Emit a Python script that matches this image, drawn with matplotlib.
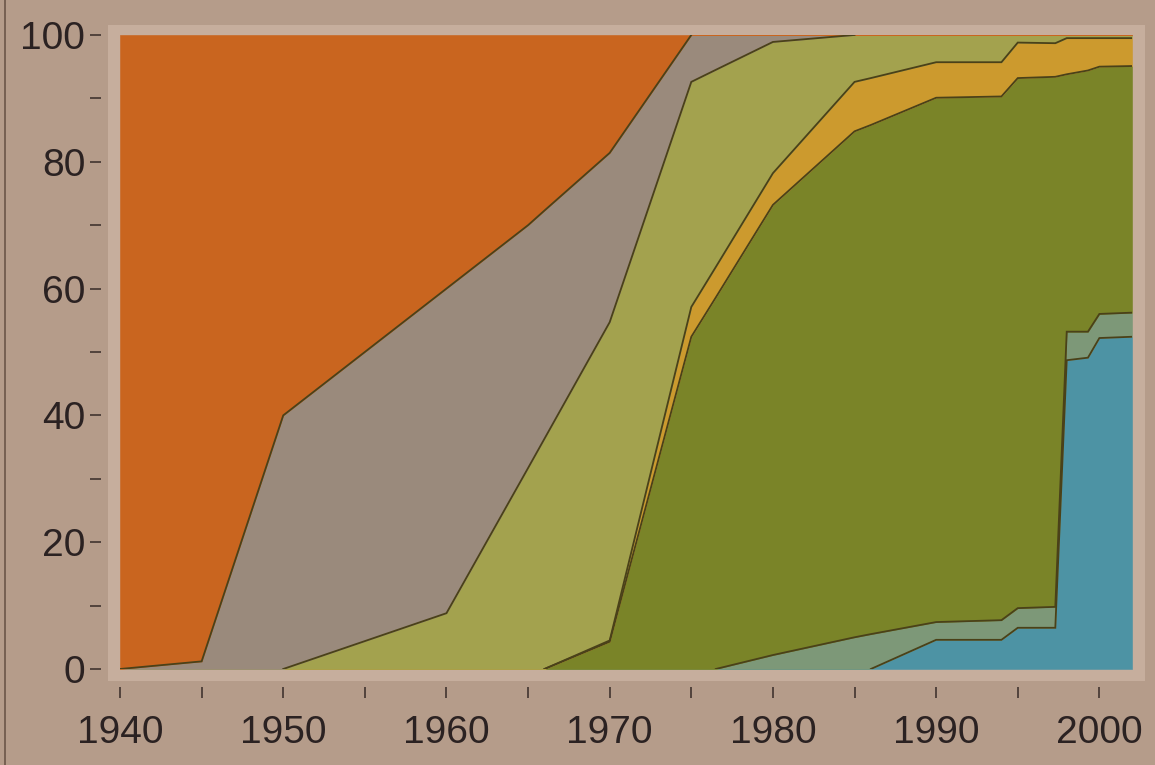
import numpy as np
import matplotlib
matplotlib.use("Agg")
import matplotlib.pyplot as plt
from matplotlib.patches import Rectangle
from matplotlib.lines import Line2D

plt.rcParams["font.family"] = ["Liberation Sans", "DejaVu Sans"]

# ---------------------------
# Data (percent share)
# ---------------------------
years = [1940, 1945, 1950, 1960, 1965, 1966, 1970, 1975, 1976.5, 1980,
         1985, 1986, 1990, 1994, 1995, 1997.3, 1998, 1999.3, 2000, 2002]

blue = [0, 0, 0, 0, 0, 0, 0, 0, 0, 0,
        0, 0, 4.6, 4.6, 6.5, 6.5, 48.7, 49.1, 52.2, 52.4]
teal = [0, 0, 0, 0, 0, 0, 0, 0, 0, 2.2,
        5.0, 5.5, 2.8, 3.1, 3.1, 3.3, 4.5, 4.1, 3.8, 3.8]
dark_green = [0, 0, 0, 0, 0, 0, 4.3, 52.4, 58.6, 71.0,
              79.8, 80.3, 82.7, 82.6, 83.6, 83.6, 40.6, 41.2, 39.0, 38.9]
yellow = [0, 0, 0, 0, 0, 0, 0.2, 4.7, 4.8, 5.0,
          7.8, 7.4, 5.6, 5.4, 5.6, 5.3, 5.7, 5.1, 4.5, 4.4]
light_green = [0, 0, 0, 8.8, 31.7, 36.3, 50.2, 35.5, 31.1, 20.7,
               7.4, 6.8, 4.3, 4.3, 1.2, 1.3, 0.5, 0.5, 0.5, 0.5]
gray = [0, 1.2, 40, 51.2, 38.3, 36.0, 26.7, 7.4, 5.5, 1.1,
        0, 0, 0, 0, 0, 0, 0, 0, 0, 0]
orange = [100, 98.8, 60, 40, 30, 27.7, 18.6, 0, 0, 0,
          0, 0, 0, 0, 0, 0, 0, 0, 0, 0]

layers = [blue, teal, dark_green, yellow, light_green, gray, orange]
colors = ["#4d93a4", "#7d9878", "#7a8428", "#cc9a2e", "#a3a24e", "#9a8a7c", "#c9651f"]

x_major = [1940, 1950, 1960, 1970, 1980, 1990, 2000]
x_minor = [1945, 1955, 1965, 1975, 1985, 1995]
y_major = [0, 20, 40, 60, 80, 100]
y_minor = [10, 30, 50, 70, 90]

BG = "#b59c8a"
FRAME = "#c6ae9d"
EDGE = "#4a4119"
INK = "#2b2222"


def boundary_line(c):
    """Hide the parts of a layer boundary that just run along 0 or 100."""
    c = np.asarray(c, float)
    inside = (c > 0.05) & (c < 99.95)
    keep = inside.copy()
    keep[1:] |= inside[:-1]
    keep[:-1] |= inside[1:]
    return np.ma.masked_where(~keep, c)


fig = plt.figure(figsize=(11.55, 7.65), dpi=100, facecolor=BG)
ax = fig.add_axes([0.1039, 0.1255, 0.8762, 0.8288])
ax.set_facecolor("none")

# light frame round the plot area
ax.add_patch(Rectangle((-0.012, -0.019), 1.025, 1.035, transform=ax.transAxes,
                       facecolor=FRAME, edgecolor="none", clip_on=False, zorder=0))

ax.stackplot(years, *layers, colors=colors, edgecolor="face", linewidth=0.4, zorder=2)

cum = np.cumsum(np.array(layers, float), axis=0)
for c in cum[:-1]:
    ax.plot(years, boundary_line(c), color=EDGE, lw=1.3, zorder=3,
            solid_joinstyle="miter")

ax.set_xlim(1940, 2002)
ax.set_ylim(0, 100)

for side in ["top", "right"]:
    ax.spines[side].set_visible(False)
ax.spines["left"].set_position(("outward", 14))
ax.spines["bottom"].set_position(("outward", 13))
ax.spines["left"].set_color("none")
ax.spines["bottom"].set_color("none")

ax.set_xticks(x_major)
ax.set_xticks(x_minor, minor=True)
ax.set_yticks(y_major)
ax.set_yticks(y_minor, minor=True)

ax.tick_params(axis="both", which="both", direction="out", length=8,
               width=1.3, color="#4a3c36", labelcolor=INK, labelsize=28)
ax.tick_params(axis="x", which="both", pad=12)
ax.tick_params(axis="y", which="both", pad=3)

# edge of the page on the left
fig.add_artist(Line2D([0.004, 0.004], [0, 1], transform=fig.transFigure,
                      color="#6b5648", lw=1.2))

fig.savefig("out.png", dpi=100, facecolor=BG)
